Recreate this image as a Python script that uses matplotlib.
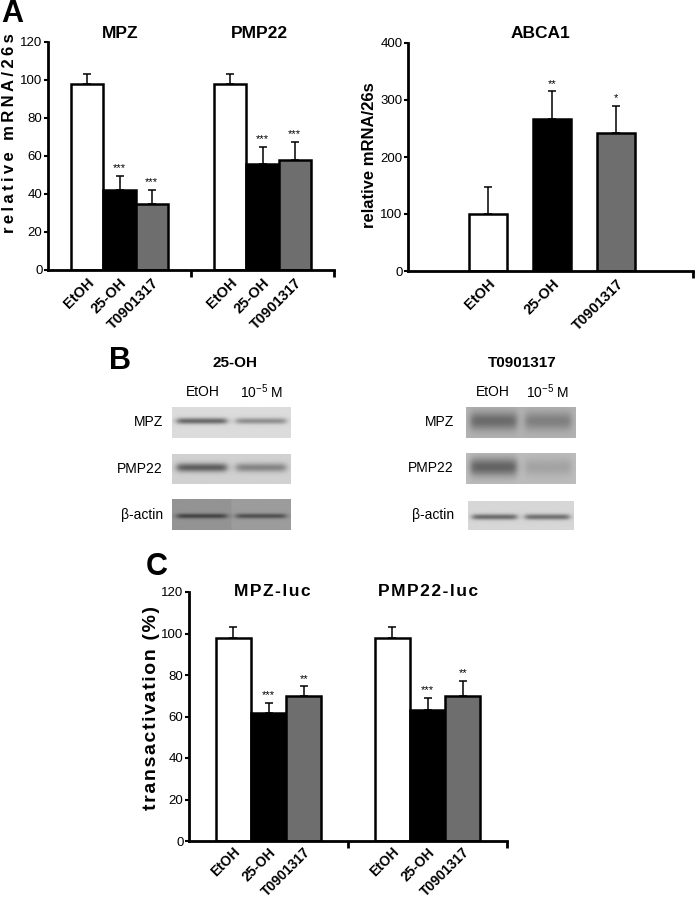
import numpy as np
import matplotlib
matplotlib.use('Agg')
import matplotlib.pyplot as plt

plt.rcParams['font.family'] = ['Liberation Sans', 'DejaVu Sans']
plt.rcParams['mathtext.fontset'] = 'custom'
plt.rcParams['mathtext.rm'] = 'Liberation Sans'
plt.rcParams['mathtext.it'] = 'Liberation Sans:italic'
plt.rcParams['mathtext.bf'] = 'Liberation Sans:bold'

W, H = 697, 900

treatments = ['EtOH', '25-OH', 'T0901317']
bar_colors = ['white', 'black', '#6e6e6e']

# panel A, qPCR
mrna_genes = ['MPZ', 'PMP22']
mrna_vals = [[98, 42, 35], [98, 56, 58]]
mrna_err = [[5, 7.5, 7], [5, 9, 9.5]]
mrna_stars = [['', '***', '***'], ['', '***', '***']]

abca1_vals = [100, 267, 242]
abca1_err = [48, 48, 48]
abca1_stars = ['', '**', '*']

# panel C, luciferase
luc_genes = ['MPZ-luc', 'PMP22-luc']
luc_vals = [[98, 61.5, 70], [98, 63, 70]]
luc_err = [[5, 5, 4.5], [5, 6, 7]]
luc_stars = [['', '***', '**'], ['', '***', '**']]

# panel B, western blots (grey levels 0..1)
blot_rows = ['MPZ', 'PMP22', 'β-actin']
blot_lanes = ['EtOH', '10$^{-5}$ M']
bg_25oh = [0.86, 0.82, 0.58]
lane_shift_25oh = [0.0, 0.0, 0.03]   # the b-actin strip is spliced, right half a bit lighter
band_25oh = [[0.45, 0.30], [0.45, 0.30], [0.32, 0.30]]
pos_25oh = [0.45, 0.45, 0.55]
sig_25oh = [0.10, 0.15, 0.08]
bg_t09 = [0.70, 0.74, 0.84]
lane_shift_t09 = [0.0, 0.0, 0.0]
band_t09 = [[0.28, 0.20], [0.35, 0.10], [0.42, 0.40]]
pos_t09 = [0.45, 0.45, 0.55]
sig_t09 = [0.30, 0.30, 0.10]

THIN = '\u2009'
HAIR = '\u200a'


def px_rect(x0, y0, x1, y1):
    return [x0 / W, 1 - y1 / H, (x1 - x0) / W, (y1 - y0) / H]


def ftext(x, y, s, **kw):
    kw.setdefault('ha', 'center')
    kw.setdefault('va', 'center')
    fig.text(x / W, 1 - y / H, s, **kw)


def style_axes(ax, xlab=10.5, xpad=4):
    for side in ['top', 'right']:
        ax.spines[side].set_visible(False)
    ax.spines['left'].set_linewidth(2)
    ax.spines['bottom'].set_linewidth(2)
    ax.tick_params(axis='y', direction='out', length=3, width=1.5, pad=1, labelsize=9.5)
    ax.tick_params(axis='x', which='major', length=0, pad=xpad, labelsize=xlab)
    ax.tick_params(axis='x', which='minor', direction='out', length=5, width=2)
    for lab in ax.get_xticklabels():
        lab.set_fontweight('bold')


def bars(ax, xs, vals, errs, stars, width=1.0):
    ax.bar(xs, vals, width=width, color=bar_colors, edgecolor='black', linewidth=1.8, zorder=2)
    ax.errorbar(xs, vals, yerr=[np.zeros(len(errs)), errs], fmt='none', ecolor='black',
                elinewidth=1.1, capsize=3, capthick=1.1, zorder=1)
    for x, v, e, s in zip(xs, vals, errs, stars):
        if s:
            ax.annotate(s, (x, v + e), xytext=(0, 2), textcoords='offset points',
                        ha='center', va='bottom', fontsize=8)


def grouped(ax, vals, errs, stars, group_w):
    xs_all = []
    for g in range(len(vals)):
        xs = [g * group_w + group_w / 2 + i - 1 for i in range(3)]
        bars(ax, xs, vals[g], errs[g], stars[g])
        xs_all += xs
    ax.set_xlim(0, len(vals) * group_w)
    ax.set_xticks(xs_all)
    ax.set_xticklabels(treatments * len(vals), rotation=45, ha='right', rotation_mode='anchor')
    ax.set_xticks([group_w * (g + 1) for g in range(len(vals))], minor=True)
    return xs_all


def blot_image(bg, shift, dark, pos, sig):
    ny, nx = 40, 160
    yy = np.linspace(0, 1, ny)[:, None]
    xx = np.linspace(0, 1, nx)[None, :]
    img = np.full((ny, nx), bg) + np.where(xx > 0.5, shift, 0.0)
    for k, d in enumerate(dark):
        lo, hi = k * 0.5 + 0.04, k * 0.5 + 0.46
        lane = 1 / (1 + np.exp(-(xx - lo) * 60)) / (1 + np.exp((xx - hi) * 60))
        img = img - d * lane * np.exp(-((yy - pos) / sig) ** 2)
    return img


fig = plt.figure(figsize=(W / 100, H / 100), dpi=100)

# ---- A left
ax1 = fig.add_axes(px_rect(48, 42, 334, 270))
grouped(ax1, mrna_vals, mrna_err, mrna_stars, 4.44)
ax1.set_ylim(0, 120)
ax1.set_yticks(range(0, 121, 20))
style_axes(ax1)
for g, name in enumerate(mrna_genes):
    ftext([120, 259][g], 34, name, fontsize=12.5, fontweight='bold')
ftext(10, 133, THIN.join('relative mRNA/26s'), rotation=90, fontsize=12, fontweight='bold')

# ---- A right
ax2 = fig.add_axes(px_rect(408, 43, 693, 271))
bars(ax2, [0, 1, 2], abca1_vals, abca1_err, abca1_stars, width=0.6)
ax2.set_xlim(-1.25, 3.2)
ax2.set_ylim(0, 400)
ax2.set_yticks(range(0, 401, 100))
ax2.set_xticks([0, 1, 2])
ax2.set_xticklabels(treatments, rotation=45, ha='right', rotation_mode='anchor')
ax2.set_xticks([3.2], minor=True)
style_axes(ax2)
ftext(540, 34, 'ABCA1', fontsize=12.5, fontweight='bold')
ftext(370, 155, 'relative mRNA/26s', rotation=90, fontsize=12, fontweight='bold')

# ---- C
ax3 = fig.add_axes(px_rect(189, 592, 507, 841))
grouped(ax3, luc_vals, luc_err, luc_stars, 4.5)
ax3.set_ylim(0, 120)
ax3.set_yticks(range(0, 121, 20))
style_axes(ax3, xlab=10, xpad=3)
for g, name in enumerate(luc_genes):
    ftext([272, 428][g], 591, HAIR.join(name), fontsize=12.5, fontweight='bold')
ftext(152, 708, HAIR.join('transactivation (%)'), rotation=90, fontsize=14, fontweight='bold')

# ---- B blots
left_rows = [(172, 407, 291, 438), (172, 454, 291, 484), (172, 499, 291, 530)]
right_rows = [(466, 407, 576, 438), (466, 453, 576, 484), (468, 501, 574, 530)]
for r in range(3):
    for rows, bg, sh, band, pos, sig in [
            (left_rows, bg_25oh, lane_shift_25oh, band_25oh, pos_25oh, sig_25oh),
            (right_rows, bg_t09, lane_shift_t09, band_t09, pos_t09, sig_t09)]:
        axb = fig.add_axes(px_rect(*rows[r]))
        axb.imshow(blot_image(bg[r], sh[r], band[r], pos[r], sig[r]), cmap='gray', vmin=0, vmax=1,
                   aspect='auto', interpolation='bilinear')
        axb.axis('off')
    ftext(163, (left_rows[r][1] + left_rows[r][3]) / 2, blot_rows[r], ha='right', fontsize=10)
    ftext(454, (right_rows[r][1] + right_rows[r][3]) / 2, blot_rows[r], ha='right', fontsize=10)

for x, lab in zip([203, 262], blot_lanes):
    ftext(x, 392, lab, fontsize=10)
for x, lab in zip([493, 548], blot_lanes):
    ftext(x, 392, lab, fontsize=10)
ftext(235, 363, '25-OH', fontsize=11, fontweight='bold')
ftext(522, 363, 'T0901317', fontsize=11, fontweight='bold')

# panel letters
ftext(12, 14, 'A', fontsize=22, fontweight='bold')
ftext(120, 361, 'B', fontsize=22, fontweight='bold')
ftext(157, 567, 'C', fontsize=22, fontweight='bold')

fig.savefig('out.png', dpi=100)
